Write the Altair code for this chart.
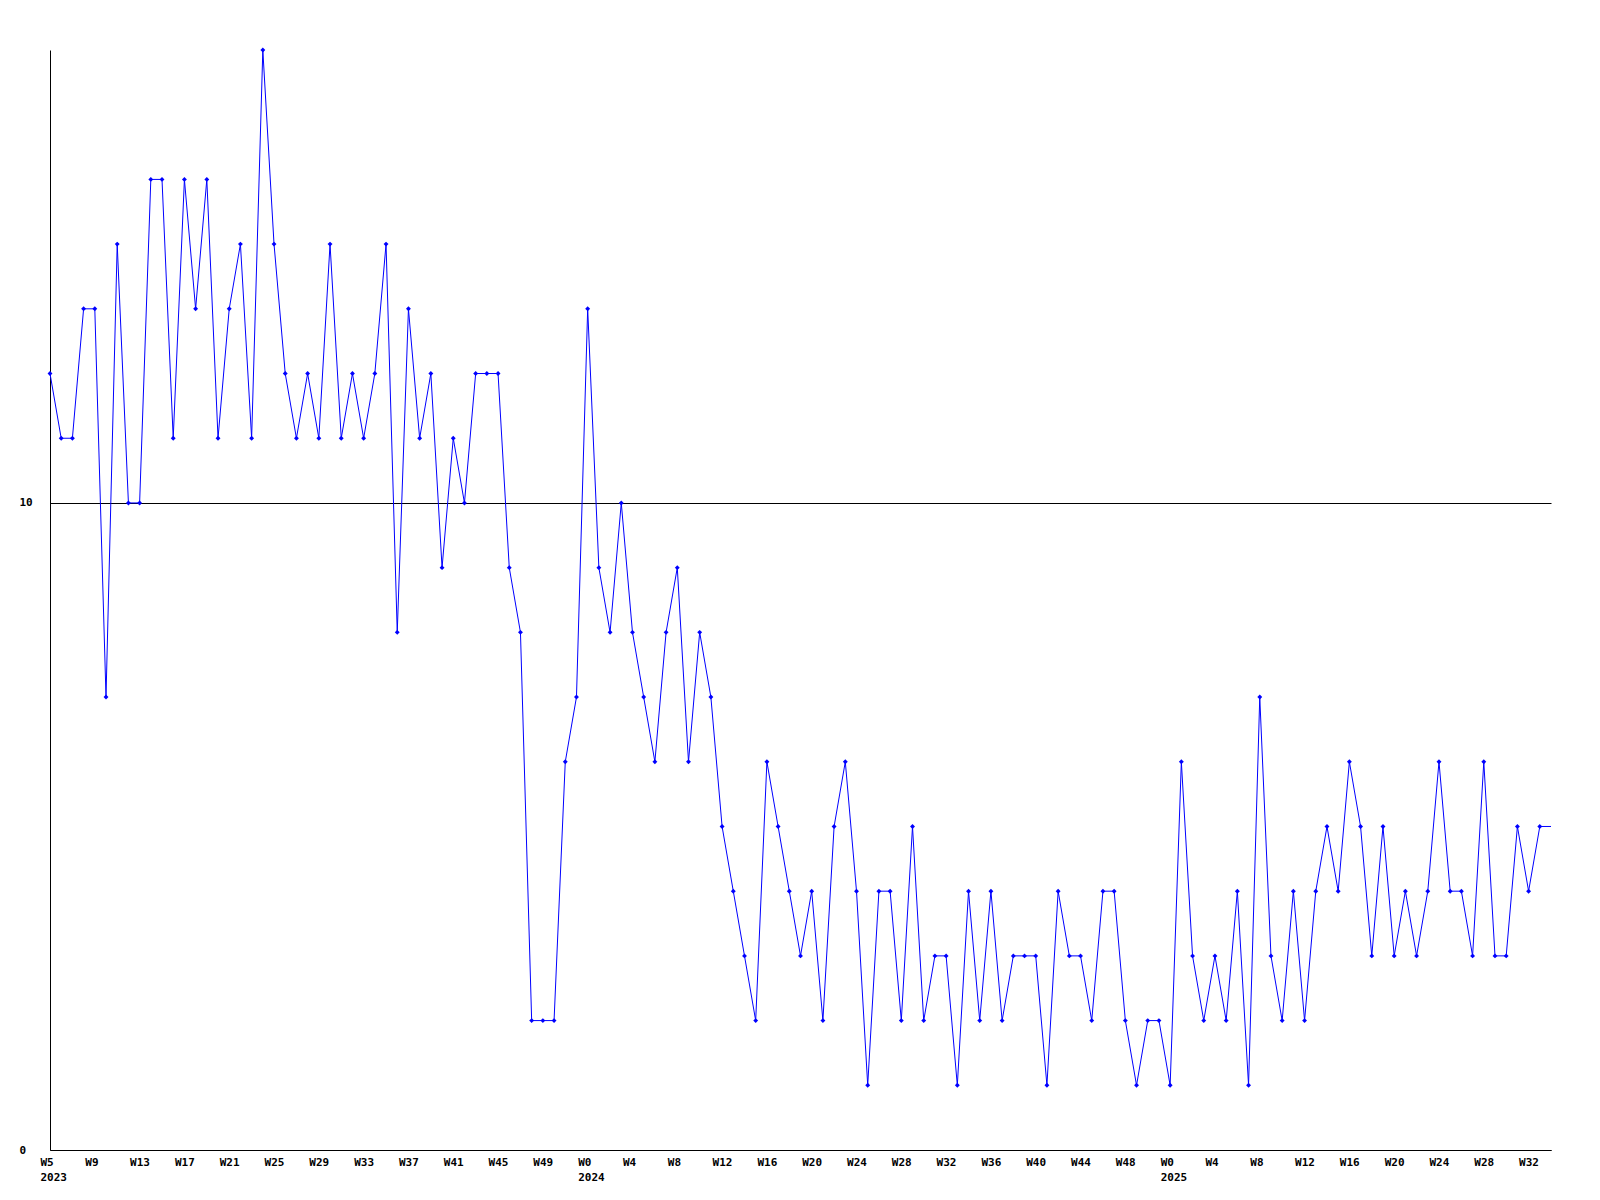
import json
import altair as alt
import pandas as pd

# Weekly values, 2023 W5 .. 2025 W33
values_2023 = [12, 11, 11, 13, 13, 7, 14, 10, 10, 15, 15, 11, 15, 13, 15, 11,
               13, 14, 11, 17, 14, 12, 11, 12, 11, 14, 11, 12, 11, 12, 14, 8,
               13, 11, 12, 9, 11, 10, 12, 12, 12, 9, 8, 2, 2, 2, 6, 7]
values_2024 = [13, 9, 8, 10, 8, 7, 6, 8, 9, 6, 8, 7, 5, 4, 3, 2, 6, 5, 4, 3,
               4, 2, 5, 6, 4, 1, 4, 4, 2, 5, 2, 3, 3, 1, 4, 2, 4, 2, 3, 3,
               3, 1, 4, 3, 3, 2, 4, 4, 2, 1, 2, 2]
values_2025 = [1, 6, 3, 2, 3, 2, 4, 1, 7, 3, 2, 4, 2, 4, 5, 4, 6, 5, 3, 5,
               3, 4, 3, 4, 6, 4, 4, 3, 6, 3, 3, 5, 4, 5]

values = values_2023 + values_2024 + values_2025
x_end = 134  # right edge of the time axis (line continues with last value)

# Tick positions (week index) and labels
tick_index = list(range(0, 45, 4)) + list(range(48, 97, 4)) + list(range(100, 133, 4))
tick_labels = (["W5|2023"] + ["W%d" % w for w in range(9, 50, 4)]
               + ["W0|2024"] + ["W%d" % w for w in range(4, 49, 4)]
               + ["W0|2025"] + ["W%d" % w for w in range(4, 33, 4)])
y_ticks = [0, 10]

idx = list(range(len(values)))
df = pd.DataFrame({"i": idx, "v": values})
line_df = pd.concat([df, pd.DataFrame({"i": [x_end], "v": [values[-1]]})], ignore_index=True)

FONT = "DejaVu Sans Mono"
label_expr = ("split(" + json.dumps(tick_labels) + "[indexof(" + json.dumps(tick_index)
              + ", datum.value)], '|')")

x_enc = alt.X("i:Q", scale=alt.Scale(domain=[0, x_end], nice=False, zero=False),
              axis=alt.Axis(values=tick_index, labelExpr=label_expr, grid=False,
                            ticks=False, tickSize=0, domainColor="black", domainWidth=1,
                            labelAlign="left", labelOffset=-10, labelPadding=6,
                            labelBaseline="top", labelFont=FONT, labelFontWeight="bold",
                            labelFontSize=11, labelColor="black", labelLineHeight=15,
                            labelOverlap=False, labelFlush=False, title=None))
y_enc = alt.Y("v:Q", scale=alt.Scale(domain=[0, 17], nice=False),
              axis=alt.Axis(values=y_ticks, grid=True, gridColor="black", gridOpacity=1,
                            gridWidth=1, ticks=False, tickSize=0, domainColor="black",
                            domainWidth=1, labelAlign="left", labelPadding=31,
                            labelFont=FONT, labelFontWeight="bold", labelFontSize=11,
                            labelColor="black", title=None))

line = alt.Chart(line_df).mark_line(color="#0000ff", strokeWidth=1).encode(x=x_enc, y=y_enc)
points = alt.Chart(df).mark_point(shape="diamond", filled=True, size=24, color="#0000ff",
                                  opacity=1).encode(x=x_enc, y=y_enc)

chart = alt.layer(line, points).properties(
    width=1501, height=1100,
    autosize=alt.AutoSizeParams(type="none"),
    padding={"left": 42, "top": 42, "right": 40, "bottom": 40},
    background="white",
).configure_view(stroke=None)

chart.save("out.html", embed_options={"renderer": "svg", "actions": False})
